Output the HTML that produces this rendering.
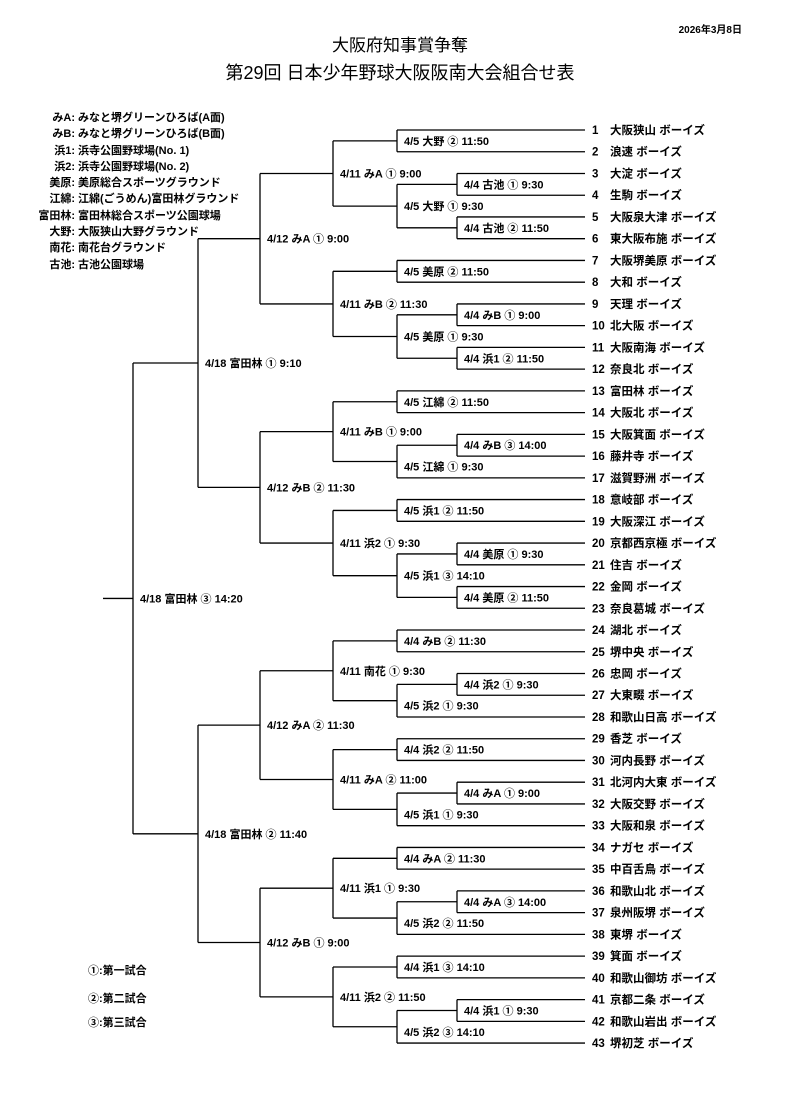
<!DOCTYPE html>
<html><head><meta charset="utf-8">
<style>
html,body{margin:0;padding:0;background:#fff;}
body{width:800px;height:1115px;overflow:hidden;position:relative;font-family:"Liberation Sans","Noto Sans CJK JP",sans-serif;}
svg{position:absolute;left:0;top:0;}
svg text{font-family:"Liberation Sans","Noto Sans CJK JP",sans-serif;fill:#000;}
</style></head>
<body>
<svg id="s" width="800" height="1115" viewBox="0 0 800 1115" xmlns="http://www.w3.org/2000/svg">
<text x="742" y="33" font-size="10" font-weight="bold" text-anchor="end">2026年3月8日</text>
<text x="400" y="51" font-size="17" text-anchor="middle">大阪府知事賞争奪</text>
<text x="400" y="79" font-size="18" text-anchor="middle">第29回 日本少年野球大阪阪南大会組合せ表</text>
<g font-size="11" font-weight="bold">
<text x="75" y="121" text-anchor="end">みA:</text><text x="78" y="121">みなと堺グリーンひろば(A面)</text>
<text x="75" y="137" text-anchor="end">みB:</text><text x="78" y="137">みなと堺グリーンひろば(B面)</text>
<text x="75" y="154" text-anchor="end">浜1:</text><text x="78" y="154">浜寺公園野球場(No. 1)</text>
<text x="75" y="170" text-anchor="end">浜2:</text><text x="78" y="170">浜寺公園野球場(No. 2)</text>
<text x="75" y="186" text-anchor="end">美原:</text><text x="78" y="186">美原総合スポーツグラウンド</text>
<text x="75" y="202" text-anchor="end">江綿:</text><text x="78" y="202">江綿(ごうめん)富田林グラウンド</text>
<text x="75" y="219" text-anchor="end">富田林:</text><text x="78" y="219">富田林総合スポーツ公園球場</text>
<text x="75" y="235" text-anchor="end">大野:</text><text x="78" y="235">大阪狭山大野グラウンド</text>
<text x="75" y="251" text-anchor="end">南花:</text><text x="78" y="251">南花台グラウンド</text>
<text x="75" y="268" text-anchor="end">古池:</text><text x="78" y="268">古池公園球場</text>
<text x="88" y="974">①:第一試合</text>
<text x="88" y="1002">②:第二試合</text>
<text x="88" y="1026">③:第三試合</text>
</g>
<g id="br" stroke="#000" stroke-width="1.3" fill="none"></g>
<g id="tx" font-size="11" font-weight="bold"></g>
</svg>
<script>
var names=["大阪狭山 ボーイズ","浪速 ボーイズ","大淀 ボーイズ","生駒 ボーイズ","大阪泉大津 ボーイズ","東大阪布施 ボーイズ","大阪堺美原 ボーイズ","大和 ボーイズ","天理 ボーイズ","北大阪 ボーイズ","大阪南海 ボーイズ","奈良北 ボーイズ","富田林 ボーイズ","大阪北 ボーイズ","大阪箕面 ボーイズ","藤井寺 ボーイズ","滋賀野洲 ボーイズ","意岐部 ボーイズ","大阪深江 ボーイズ","京都西京極 ボーイズ","住吉 ボーイズ","金岡 ボーイズ","奈良葛城 ボーイズ","湖北 ボーイズ","堺中央 ボーイズ","忠岡 ボーイズ","大東畷 ボーイズ","和歌山日高 ボーイズ","香芝 ボーイズ","河内長野 ボーイズ","北河内大東 ボーイズ","大阪交野 ボーイズ","大阪和泉 ボーイズ","ナガセ ボーイズ","中百舌鳥 ボーイズ","和歌山北 ボーイズ","泉州阪堺 ボーイズ","東堺 ボーイズ","箕面 ボーイズ","和歌山御坊 ボーイズ","京都二条 ボーイズ","和歌山岩出 ボーイズ","堺初芝 ボーイズ"];
var NS="http://www.w3.org/2000/svg";
var br=document.getElementById("br"),tx=document.getElementById("tx");
function T(i){return {y:130+(i-1)*21.74,end:585,team:true};}
function M(x,l,a,b){return {x:x,l:l,k:[a,b]};}
function line(x1,y1,x2,y2){var e=document.createElementNS(NS,"line");e.setAttribute("x1",x1);e.setAttribute("y1",y1);e.setAttribute("x2",x2);e.setAttribute("y2",y2);br.appendChild(e);}
function text(x,y,s,fs){var e=document.createElementNS(NS,"text");e.setAttribute("x",x);e.setAttribute("y",y);if(fs)e.setAttribute("font-size",fs);e.textContent=s;tx.appendChild(e);}
function draw(m){
  if(m.end)return;
  draw(m.k[0]);draw(m.k[1]);
  var a=m.k[0],b=m.k[1];
  m.y=(a.y+b.y)/2;m.end=m.x;
  line(m.x,a.y,m.x,b.y);
  line(m.x,a.y,a.end,a.y);line(m.x,b.y,b.end,b.y);
  var off=(!a.team&&b.team)?5:0;
  text(m.x+7,m.y+4+off,m.l);
}
var g1=M(333,"4/11  みA  ①  9:00",M(397,"4/5  大野  ② 11:50",T(1),T(2)),M(397,"4/5  大野  ①  9:30",M(457,"4/4  古池  ①  9:30",T(3),T(4)),M(457,"4/4  古池  ②  11:50",T(5),T(6))));
var g2=M(333,"4/11  みB  ② 11:30",M(397,"4/5  美原  ② 11:50",T(7),T(8)),M(397,"4/5  美原  ①  9:30",M(457,"4/4  みB  ①  9:00",T(9),T(10)),M(457,"4/4  浜1  ② 11:50",T(11),T(12))));
var g3=M(333,"4/11  みB  ①  9:00",M(397,"4/5  江綿  ②  11:50",T(13),T(14)),M(397,"4/5  江綿  ①  9:30",M(457,"4/4  みB  ③ 14:00",T(15),T(16)),T(17)));
var g4=M(333,"4/11  浜2  ①  9:30",M(397,"4/5  浜1  ②  11:50",T(18),T(19)),M(397,"4/5  浜1 ③  14:10",M(457,"4/4  美原  ① 9:30",T(20),T(21)),M(457,"4/4  美原  ② 11:50",T(22),T(23))));
var g5=M(333,"4/11  南花  ①  9:30",M(397,"4/4  みB  ②  11:30",T(24),T(25)),M(397,"4/5  浜2  ①  9:30",M(457,"4/4  浜2  ① 9:30",T(26),T(27)),T(28)));
var g6=M(333,"4/11  みA ② 11:00",M(397,"4/4  浜2  ②  11:50",T(29),T(30)),M(397,"4/5  浜1  ① 9:30",M(457,"4/4  みA  ①  9:00",T(31),T(32)),T(33)));
var g7=M(333,"4/11  浜1  ①  9:30",M(397,"4/4  みA  ② 11:30",T(34),T(35)),M(397,"4/5  浜2  ②  11:50",M(457,"4/4  みA  ③ 14:00",T(36),T(37)),T(38)));
var g8=M(333,"4/11  浜2  ②  11:50",M(397,"4/4  浜1  ③ 14:10",T(39),T(40)),M(397,"4/5  浜2  ③ 14:10",M(457,"4/4  浜1  ①  9:30",T(41),T(42)),T(43)));
var fin=M(133,"4/18  富田林  ③ 14:20",
  M(198,"4/18  富田林 ①  9:10",M(260,"4/12  みA ① 9:00",g1,g2),M(260,"4/12  みB ② 11:30",g3,g4)),
  M(198,"4/18  富田林 ② 11:40",M(260,"4/12  みA  ② 11:30",g5,g6),M(260,"4/12  みB  ① 9:00",g7,g8)));
draw(fin);
line(103,fin.y,133,fin.y);
for(var i=1;i<=43;i++){var y=130+(i-1)*21.74+4;text(592,y,String(i),"11.5");text(610,y,names[i-1],"11.5");}
</script>
</body></html>
